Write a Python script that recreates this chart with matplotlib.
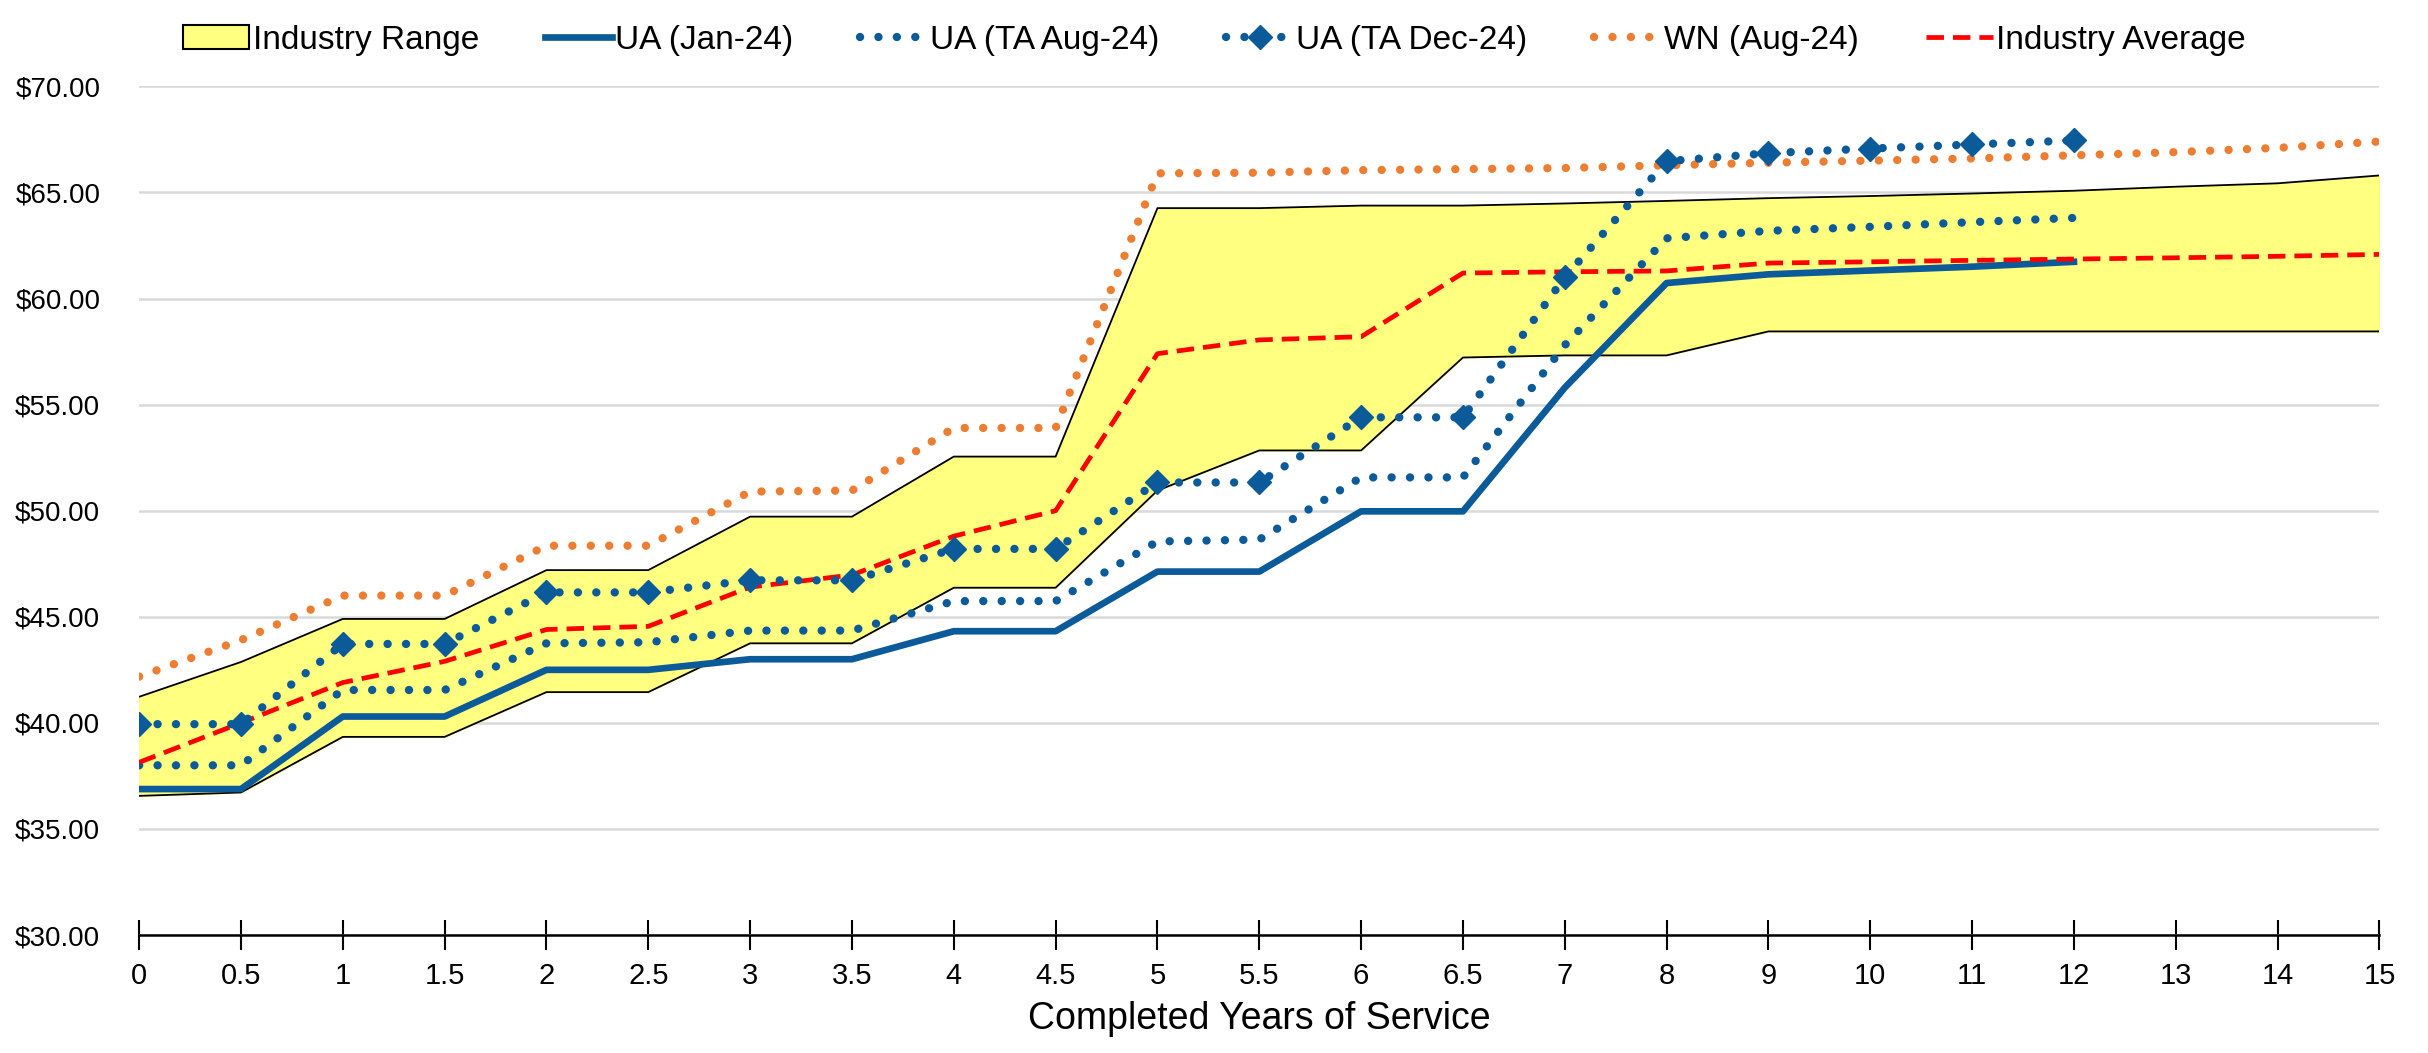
import numpy as np
import matplotlib
matplotlib.use("Agg")
import matplotlib.pyplot as plt
from matplotlib.patches import Patch
from matplotlib.lines import Line2D

plt.rcParams['font.family'] = ['Liberation Sans', 'DejaVu Sans']

years = ['0', '0.5', '1', '1.5', '2', '2.5', '3', '3.5', '4', '4.5', '5', '5.5', '6', '6.5', '7',
         '8', '9', '10', '11', '12', '13', '14', '15']

range_high = [41.23, 42.87, 44.9, 44.9, 47.2, 47.2, 49.72, 49.72, 52.55, 52.55, 64.26, 64.26, 64.38, 64.38,
              64.48, 64.6, 64.73, 64.83, 64.95, 65.08, 65.27, 65.43, 65.8]
range_low = [36.56, 36.72, 39.34, 39.34, 41.45, 41.45, 43.75, 43.75, 46.37, 46.37, 50.95, 52.84, 52.84, 57.22,
             57.32, 57.32, 58.45, 58.45, 58.45, 58.45, 58.45, 58.45, 58.45]
ua_jan24 = [36.88, 36.88, 40.3, 40.3, 42.5, 42.5, 43.0, 43.0, 44.32, 44.32, 47.13, 47.13, 49.97, 49.97,
            55.8, 60.73, 61.14, 61.32, 61.5, 61.73]
ua_aug24 = [38.0, 38.0, 41.55, 41.55, 43.75, 43.8, 44.35, 44.35, 45.74, 45.74, 48.55, 48.64, 51.57, 51.57,
            57.8, 62.84, 63.19, 63.38, 63.6, 63.8]
ua_dec24 = [39.94, 39.94, 43.72, 43.72, 46.15, 46.15, 46.72, 46.72, 48.2, 48.2, 51.33, 51.33, 54.4, 54.4,
            61.0, 66.47, 66.85, 67.07, 67.26, 67.45]
wn_aug24 = [42.18, 43.9, 46.0, 46.0, 48.35, 48.35, 50.9, 50.95, 53.9, 53.9, 65.9, 65.93, 66.05, 66.1,
            66.15, 66.28, 66.4, 66.5, 66.6, 66.75, 66.9, 67.1, 67.4]
industry_avg = [38.14, 40.0, 41.9, 42.9, 44.4, 44.55, 46.4, 46.97, 48.8, 50.0, 57.4, 58.05, 58.2, 61.2,
                61.26, 61.3, 61.67, 61.73, 61.8, 61.86, 61.92, 61.99, 62.08]

blue = '#0B5A99'
orange = '#ED7D31'
dots = (0, (0.01, 2.2))
dashes = (0, (3.7, 1.9))

fig = plt.figure(figsize=(24.28, 10.53), dpi=100)
ax = fig.add_axes([0.0573, 0.112, 0.9227, 0.806])

x = np.arange(len(years))

ax.fill_between(x, range_low, range_high, color='#FFFF80', zorder=1)
ax.plot(x, range_high, color='black', lw=1.3, zorder=2)
ax.plot(x, range_low, color='black', lw=1.3, zorder=2)

ax.plot(x[:len(ua_jan24)], ua_jan24, color=blue, lw=4.8, zorder=4)
ax.plot(x[:len(ua_aug24)], ua_aug24, color=blue, lw=6, linestyle=dots,
        dash_capstyle='round', zorder=4)
ax.plot(x[:len(ua_dec24)], ua_dec24, color=blue, lw=6, linestyle=dots,
        dash_capstyle='round', marker='D', markersize=12, zorder=5)
ax.plot(x, wn_aug24, color=orange, lw=6, linestyle=dots,
        dash_capstyle='round', zorder=3)
ax.plot(x, industry_avg, color='#FF0000', lw=3.4, linestyle=dashes, zorder=4)

ax.set_xlim(0, len(years) - 1)
ax.set_ylim(30, 70)
ax.set_xticks(x)
ax.set_xticklabels(years)
ax.set_yticks(np.arange(30, 71, 5))
ax.set_yticklabels(['${:.2f}'.format(v) for v in np.arange(30, 71, 5)])
ax.tick_params(axis='x', direction='inout', length=21, width=1.5, labelsize=21, pad=9)
ax.tick_params(axis='y', length=0, labelsize=20, pad=28)
ax.grid(axis='y', color='#D9D9D9', lw=1.8)
ax.set_axisbelow(True)
for s in ['top', 'right', 'left']:
    ax.spines[s].set_visible(False)
ax.spines['bottom'].set_linewidth(1.8)
ax.spines['bottom'].set_zorder(6)

ax.set_xlabel('Completed Years of Service', fontsize=27, labelpad=8)

handles = [
    Patch(facecolor='#FFFF80', edgecolor='black', lw=1.5),
    Line2D([], [], color=blue, lw=4.8),
    Line2D([], [], color=blue, lw=6, linestyle=dots, dash_capstyle='round'),
    Line2D([], [], color=blue, lw=6, linestyle=dots, dash_capstyle='round',
           marker='D', markersize=12),
    Line2D([], [], color=orange, lw=6, linestyle=dots, dash_capstyle='round'),
    Line2D([], [], color='#FF0000', lw=3.4, linestyle=dashes),
]
labels = ['Industry Range', 'UA (Jan-24)', 'UA (TA Aug-24)', 'UA (TA Dec-24)', 'WN (Aug-24)',
          'Industry Average']
fig.legend(handles, labels, loc='upper center', bbox_to_anchor=(0.5, 1.005), ncol=6, frameon=False,
           fontsize=24, handlelength=2.0, handletextpad=0.1, columnspacing=2.0)

fig.savefig('out.png', dpi=100)
